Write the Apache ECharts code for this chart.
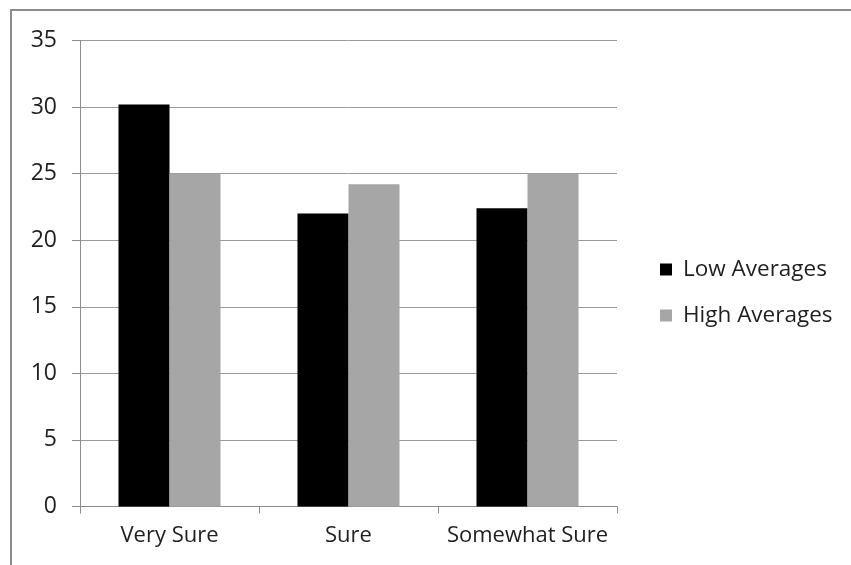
<!DOCTYPE html>
<html>
<head>
<meta charset="utf-8">
<script src="https://cdn.jsdelivr.net/npm/echarts@6/dist/echarts.min.js"></script>
<style>
  html, body { margin: 0; padding: 0; background: #fff; }
  #chart { width: 851px; height: 565px; }
</style>
</head>
<body>
<div id="chart"></div>
<script>
// Survey certainty groups and the two averaged series
const categories = ['Very Sure', 'Sure', 'Somewhat Sure'];
const lowAverages = [30.2, 22.0, 22.4];
const highAverages = [25.0, 24.2, 25.0];
const seriesNames = ['Low Averages', 'High Averages'];

const FONT = '"Open Sans", "Noto Sans", sans-serif';
const TEXT = '#1f1f1f';
const LINE = '#8c8c8c';

const chart = echarts.init(document.getElementById('chart'), null, { renderer: 'canvas' });

chart.setOption({
  backgroundColor: '#ffffff',
  animation: false,
  textStyle: { fontFamily: FONT, color: TEXT },
  graphic: [{
    type: 'rect',
    shape: { x: 11, y: 10, width: 900, height: 600 },
    style: { fill: 'none', stroke: '#8a8a8a', lineWidth: 2 },
    silent: true
  }],
  grid: { left: 80, right: 234, top: 40.5, bottom: 58.5, containLabel: false },
  legend: {
    orient: 'vertical',
    left: 660,
    top: 258,
    padding: 0,
    itemWidth: 12,
    itemHeight: 12,
    itemGap: 23,
    icon: 'rect',
    textStyle: { fontFamily: FONT, fontSize: 22.5, color: TEXT, padding: [0, 0, 0, 6] },
    data: seriesNames
  },
  xAxis: {
    type: 'category',
    data: categories,
    axisLine: { lineStyle: { color: LINE, width: 1 } },
    axisTick: { show: true, length: 7, lineStyle: { color: LINE } },
    axisLabel: { fontFamily: FONT, fontSize: 22, color: TEXT, margin: 18, interval: 0 }
  },
  yAxis: {
    type: 'value',
    min: 0,
    max: 35,
    interval: 5,
    axisLine: { show: true, lineStyle: { color: LINE, width: 1 } },
    axisTick: { show: true, length: 8, inside: false, lineStyle: { color: LINE } },
    axisLabel: { fontFamily: FONT, fontSize: 23, color: TEXT, margin: 23 },
    splitLine: { show: true, lineStyle: { color: '#9a9a9a', width: 1 } }
  },
  series: [
    {
      name: seriesNames[0],
      type: 'bar',
      data: lowAverages,
      barGap: '0%',
      barCategoryGap: '43%',
      itemStyle: { color: '#000000' }
    },
    {
      name: seriesNames[1],
      type: 'bar',
      data: highAverages,
      barGap: '0%',
      barCategoryGap: '43%',
      itemStyle: { color: '#a6a6a6' }
    }
  ]
});
</script>
</body>
</html>
